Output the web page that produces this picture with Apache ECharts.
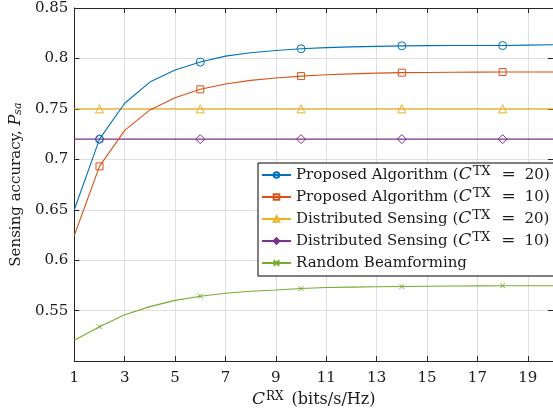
<!DOCTYPE html>
<html>
<head>
<meta charset="utf-8">
<script src="https://cdn.jsdelivr.net/npm/echarts@6/dist/echarts.min.js"></script>
<style>
  html, body { margin: 0; padding: 0; background: #fff; }
  #chart { width: 553px; height: 413px; }
</style>
</head>
<body>
<div id="chart"></div>
<script>
  // C^RX (bits/s/Hz)
  const rxCapacity = ['1', '2', '3', '4', '5', '6', '7', '8', '9', '10',
                      '11', '12', '13', '14', '15', '16', '17', '18', '19', '20'];

  // sensing accuracy P_sa
  const proposed20 = [0.650, 0.720, 0.7556, 0.7766, 0.7885, 0.7964, 0.8023, 0.8056, 0.8079, 0.8096,
                      0.8107, 0.8115, 0.8120, 0.8125, 0.8127, 0.8128, 0.8128, 0.8128, 0.8132, 0.8135];
  const proposed10 = [0.6245, 0.693, 0.7287, 0.749, 0.761, 0.7694, 0.7747, 0.7783, 0.7806, 0.7825,
                      0.7838, 0.7847, 0.7854, 0.7859, 0.7861, 0.7863, 0.7864, 0.7865, 0.7865, 0.7865];
  const distributed20 = [0.75, 0.75, 0.75, 0.75, 0.75, 0.75, 0.75, 0.75, 0.75, 0.75,
                         0.75, 0.75, 0.75, 0.75, 0.75, 0.75, 0.75, 0.75, 0.75, 0.75];
  const distributed10 = [0.72, 0.72, 0.72, 0.72, 0.72, 0.72, 0.72, 0.72, 0.72, 0.72,
                         0.72, 0.72, 0.72, 0.72, 0.72, 0.72, 0.72, 0.72, 0.72, 0.72];
  const randomBf = [0.5206, 0.534, 0.5459, 0.554, 0.5602, 0.5643, 0.5673, 0.5692, 0.5705, 0.5719,
                    0.5729, 0.5733, 0.5737, 0.5739, 0.5742, 0.5744, 0.5746, 0.5747, 0.5747, 0.5747];

  // markers are only drawn on these x values
  const markerAt = ['2', '6', '10', '14', '18'];

  const seriesNames = [
    'Proposed Algorithm (CTX = 20)',
    'Proposed Algorithm (CTX = 10)',
    'Distributed Sensing (CTX = 20)',
    'Distributed Sensing (CTX = 10)',
    'Random Beamforming'
  ];
  // rich text for the legend: italic C, superscript TX
  const legendRich = {
    'Proposed Algorithm (CTX = 20)': '{t|Proposed Algorithm (}{i|C}{s|TX}{e|=}{t|20)}',
    'Proposed Algorithm (CTX = 10)': '{t|Proposed Algorithm (}{i|C}{s|TX}{e|=}{t|10)}',
    'Distributed Sensing (CTX = 20)': '{t|Distributed Sensing (}{i|C}{s|TX}{e|=}{t|20)}',
    'Distributed Sensing (CTX = 10)': '{t|Distributed Sensing (}{i|C}{s|TX}{e|=}{t|10)}',
    'Random Beamforming': '{t|Random Beamforming}'
  };

  const colors = ['#0072BD', '#D95319', '#EDB120', '#7E2F8E', '#77AC30'];
  const symbols = ['circle', 'rect', 'triangle', 'diamond', 'path://M0,0L10,10M10,0L0,10'];
  const symbolSizes = [8, 7, 8, 9, 5];

  const values = [proposed20, proposed10, distributed20, distributed10, randomBf];

  const font = '"DejaVu Serif", "Liberation Serif", serif';
  const axisColor = '#262626';
  const textColor = '#1a1a1a';

  function withMarkers(arr) {
    return arr.map(function (v, i) {
      if (markerAt.indexOf(rxCapacity[i]) >= 0) return v;
      return { value: v, symbol: 'none' };
    });
  }

  let myChart = echarts.init(document.getElementById('chart'));
  let option = {
    animation: false,
    backgroundColor: '#fff',
    textStyle: { fontFamily: font },
    grid: { left: 68, right: -2, top: 8, bottom: 50, containLabel: false },
    legend: {
      data: seriesNames,
      orient: 'vertical',
      left: 258,
      top: 163,
      padding: [2, 12, 3, 3],
      itemGap: 2,
      itemWidth: 29,
      itemHeight: 7,
      backgroundColor: '#fff',
      borderColor: '#000',
      borderWidth: 1,
      borderRadius: 0,
      formatter: function (name) { return legendRich[name]; },
      textStyle: {
        fontFamily: font,
        fontSize: 15,
        lineHeight: 20,
        color: textColor,
        rich: {
          t: { fontFamily: font, fontSize: 15, color: textColor, lineHeight: 20 },
          i: { fontFamily: font, fontSize: 17, fontStyle: 'italic', color: textColor, lineHeight: 20 },
          s: { fontFamily: font, fontSize: 13, color: textColor, verticalAlign: 'top', lineHeight: 14, padding: [0, 1, 0, 1] },
          e: { fontFamily: font, fontSize: 17, color: textColor, lineHeight: 20, padding: [0, 9, 0, 10] }
        }
      }
    },
    xAxis: [{
      type: 'category',
      data: rxCapacity,
      boundaryGap: false,
      position: 'bottom',
      name: '{i|C}{s|RX}{t| (bits/s/Hz)}',
      nameLocation: 'middle',
      nameGap: 25,
      nameTextStyle: {
        fontFamily: font,
        rich: {
          t: { fontFamily: font, fontSize: 16, color: textColor },
          i: { fontFamily: font, fontSize: 17, fontStyle: 'italic', color: textColor },
          s: { fontFamily: font, fontSize: 12, color: textColor, verticalAlign: 'top', lineHeight: 13, padding: [0, 3, 0, 1] }
        }
      },
      axisLine: { lineStyle: { color: axisColor, width: 1 } },
      axisTick: { inside: true, length: 5, interval: 1, lineStyle: { color: axisColor } },
      axisLabel: { interval: 1, margin: 10, fontFamily: font, fontSize: 15, color: textColor },
      splitLine: { show: true, interval: 1, lineStyle: { color: '#dfdfdf', width: 1 } }
    }, {
      type: 'category',
      data: rxCapacity,
      boundaryGap: false,
      position: 'top',
      axisLine: { lineStyle: { color: axisColor, width: 1 } },
      axisTick: { inside: true, length: 5, interval: 1, lineStyle: { color: axisColor } },
      axisLabel: { show: false },
      splitLine: { show: false }
    }],
    yAxis: [{
      type: 'value',
      min: 0.5,
      max: 0.85,
      interval: 0.05,
      position: 'left',
      name: '{t|Sensing accuracy, }{i|P}{s|sa}',
      nameLocation: 'middle',
      nameRotate: 90,
      nameGap: 44,
      nameTextStyle: {
        fontFamily: font,
        rich: {
          t: { fontFamily: font, fontSize: 15, color: textColor },
          i: { fontFamily: font, fontSize: 16, fontStyle: 'italic', color: textColor },
          s: { fontFamily: font, fontSize: 11, fontStyle: 'italic', color: textColor, verticalAlign: 'bottom', lineHeight: 12 }
        }
      },
      axisLine: { show: true, lineStyle: { color: axisColor, width: 1 } },
      axisTick: { show: true, inside: true, length: 5, lineStyle: { color: axisColor } },
      axisLabel: {
        showMinLabel: false,
        margin: 6,
        fontFamily: font,
        fontSize: 15,
        color: textColor,
        formatter: function (v) { return String(+v.toFixed(2)); }
      },
      splitLine: { show: true, lineStyle: { color: '#dfdfdf', width: 1 } }
    }, {
      type: 'value',
      min: 0.5,
      max: 0.85,
      interval: 0.05,
      position: 'right',
      axisLine: { show: true, lineStyle: { color: axisColor, width: 1 } },
      axisTick: { show: true, inside: true, length: 5, lineStyle: { color: axisColor } },
      axisLabel: { show: false },
      splitLine: { show: false }
    }],
    series: values.map(function (arr, k) {
      return {
        name: seriesNames[k],
        type: 'line',
        data: withMarkers(arr),
        symbol: symbols[k],
        symbolSize: symbolSizes[k],
        showAllSymbol: true,
        z: 10 - k,
        lineStyle: { color: colors[k], width: 1.1 },
        itemStyle: { color: 'rgba(255,255,255,0)', borderColor: colors[k], borderWidth: 1 },
        emphasis: { disabled: true }
      };
    })
  };
  myChart.setOption(option);
</script>
</body>
</html>
